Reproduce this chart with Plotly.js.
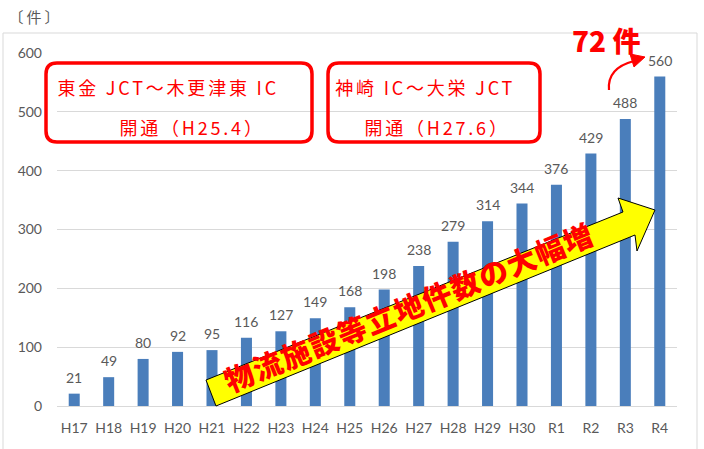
<!DOCTYPE html>
<html><head><meta charset="utf-8">
<script src="https://cdn.plot.ly/plotly-3.0.1.min.js"></script>
<style>
html,body{margin:0;padding:0;background:#fff;}
#chart{width:704px;height:449px;}
g.annotation[data-index="1"] text, g.annotation[data-index="2"] text,
g.annotation[data-index="3"] text, g.annotation[data-index="4"] text { letter-spacing: 2.8px; }
g.annotation[data-index="0"] text { letter-spacing: 3px; }
g.annotation[data-index="6"] text { letter-spacing: 1.5px; }
</style>
</head><body><div id="chart"></div>
<script>
// ---- data ----
const categories = ['H17','H18','H19','H20','H21','H22','H23','H24','H25','H26','H27','H28','H29','H30','R1','R2','R3','R4'];
const counts = [21,49,80,92,95,116,127,149,168,198,238,279,314,344,376,429,488,560];
const yTicks = [0,100,200,300,400,500,600];
const unitLabel = '〔件〕';
const box1Lines = ['東金 JCT～木更津東 IC', '開通（H25.4）'];
const box2Lines = ['神崎 IC～大栄 JCT', '開通（H27.6）'];
const arrowText = '物流施設等立地件数の大幅増';
const increaseText = '72 件';

// ---- geometry (pixels) ----
const W = 704, H = 449;
const L = 57, R = 677, T = 53, B = 406;
const px = x => (x - L) / (R - L);
const py = y => (B - y) / (B - T);
const pt = (x, y) => px(x).toFixed(5) + ',' + py(y).toFixed(5);

function roundRect(x0, y0, x1, y1, r) {
  return 'M' + pt(x0 + r, y0) + ' L' + pt(x1 - r, y0) + ' Q' + pt(x1, y0) + ' ' + pt(x1, y0 + r) +
    ' L' + pt(x1, y1 - r) + ' Q' + pt(x1, y1) + ' ' + pt(x1 - r, y1) +
    ' L' + pt(x0 + r, y1) + ' Q' + pt(x0, y1) + ' ' + pt(x0, y1 - r) +
    ' L' + pt(x0, y0 + r) + ' Q' + pt(x0, y0) + ' ' + pt(x0 + r, y0) + ' Z';
}
function poly(points) {
  return points.map((p, i) => (i ? 'L' : 'M') + pt(p[0], p[1])).join(' ') + ' Z';
}

const grey = '#595959';
const red = '#ff0000';
const boxFont = {family: '"Noto Sans CJK JP", "DejaVu Sans", sans-serif', size: 18, color: red};

const trace = {
  type: 'bar',
  x: categories,
  y: counts,
  marker: {color: '#4a7ebb'},
  hoverinfo: 'skip'
};

const annotations = [
  {xref: 'paper', yref: 'paper', x: px(35), y: py(16), text: unitLabel, showarrow: false,
   font: {family: '"Noto Sans CJK JP", sans-serif', size: 15, color: grey}, xanchor: 'center', yanchor: 'middle'},
  {xref: 'paper', yref: 'paper', x: px(168), y: py(87), text: box1Lines[0], showarrow: false,
   font: boxFont, xanchor: 'center', yanchor: 'middle'},
  {xref: 'paper', yref: 'paper', x: px(192), y: py(127), text: box1Lines[1], showarrow: false,
   font: boxFont, xanchor: 'center', yanchor: 'middle'},
  {xref: 'paper', yref: 'paper', x: px(425), y: py(87), text: box2Lines[0], showarrow: false,
   font: boxFont, xanchor: 'center', yanchor: 'middle'},
  {xref: 'paper', yref: 'paper', x: px(437), y: py(127), text: box2Lines[1], showarrow: false,
   font: boxFont, xanchor: 'center', yanchor: 'middle'},
  {xref: 'paper', yref: 'paper', x: px(606), y: py(40), text: increaseText, showarrow: false,
   font: {family: '"Noto Sans CJK JP", sans-serif', size: 28, color: red, weight: 900}, xanchor: 'center', yanchor: 'middle'},
  {xref: 'paper', yref: 'paper', x: px(408), y: py(306), text: arrowText, showarrow: false, textangle: -22.3,
   font: {family: '"Noto Sans CJK JP", sans-serif', size: 29, color: red, weight: 900}, xanchor: 'center', yanchor: 'middle'}
];
categories.forEach((c, i) => {
  annotations.push({x: c, y: counts[i], xref: 'x', yref: 'y', text: String(counts[i]), showarrow: false,
    yanchor: 'bottom', yshift: 6, font: {family: 'Lato, sans-serif', size: 14, color: grey}});
});

const shapes = [
  // chart border
  {type: 'rect', xref: 'paper', yref: 'paper', x0: px(3), x1: px(697), y0: py(33), y1: py(460),
   line: {color: '#d9d9d9', width: 1}, fillcolor: 'rgba(0,0,0,0)', layer: 'below'},
  // red boxes
  {type: 'path', xref: 'paper', yref: 'paper', path: roundRect(46, 63, 312, 142, 11),
   line: {color: red, width: 3.5}, fillcolor: 'rgba(255,255,255,0)'},
  {type: 'path', xref: 'paper', yref: 'paper', path: roundRect(328, 63, 540, 142, 11),
   line: {color: red, width: 3.5}, fillcolor: 'rgba(255,255,255,0)'},
  // big yellow arrow
  {type: 'path', xref: 'paper', yref: 'paper',
   path: poly([[206, 380], [623, 212], [618, 198], [655, 210], [637, 251], [635, 235], [216, 406]]),
   line: {color: '#000', width: 1}, fillcolor: '#ffff00', layer: 'above'},
  // small curved red arrow
  {type: 'path', xref: 'paper', yref: 'paper',
   path: 'M' + pt(609, 90) + ' Q' + pt(607, 68) + ' ' + pt(634, 61),
   line: {color: red, width: 2.2}, fillcolor: 'rgba(0,0,0,0)'},
  {type: 'path', xref: 'paper', yref: 'paper',
   path: poly([[645, 57], [630, 54], [634, 67]]),
   line: {color: red, width: 1}, fillcolor: red}
];

const layout = {
  width: W, height: H,
  margin: {l: L, r: W - R, t: T, b: H - B, pad: 0},
  paper_bgcolor: '#ffffff', plot_bgcolor: '#ffffff',
  showlegend: false,
  bargap: 0.68,
  xaxis: {type: 'category', range: [-0.5, categories.length - 0.5], showgrid: false, showline: false,
    ticks: '', tickfont: {family: 'Lato, sans-serif', size: 14, color: grey}, ticklabelstandoff: 12, fixedrange: true},
  yaxis: {range: [0, 600], tickvals: yTicks, ticktext: yTicks.map(String), showgrid: true, gridcolor: '#d9d9d9', gridwidth: 1,
    zeroline: true, zerolinecolor: '#d9d9d9', zerolinewidth: 1, showline: false, ticks: '',
    tickfont: {family: 'Lato, sans-serif', size: 14, color: grey}, ticklabelstandoff: 14, fixedrange: true},
  annotations: annotations,
  shapes: shapes
};

Plotly.newPlot('chart', [trace], layout, {displayModeBar: false, staticPlot: true});
</script>
</body></html>
